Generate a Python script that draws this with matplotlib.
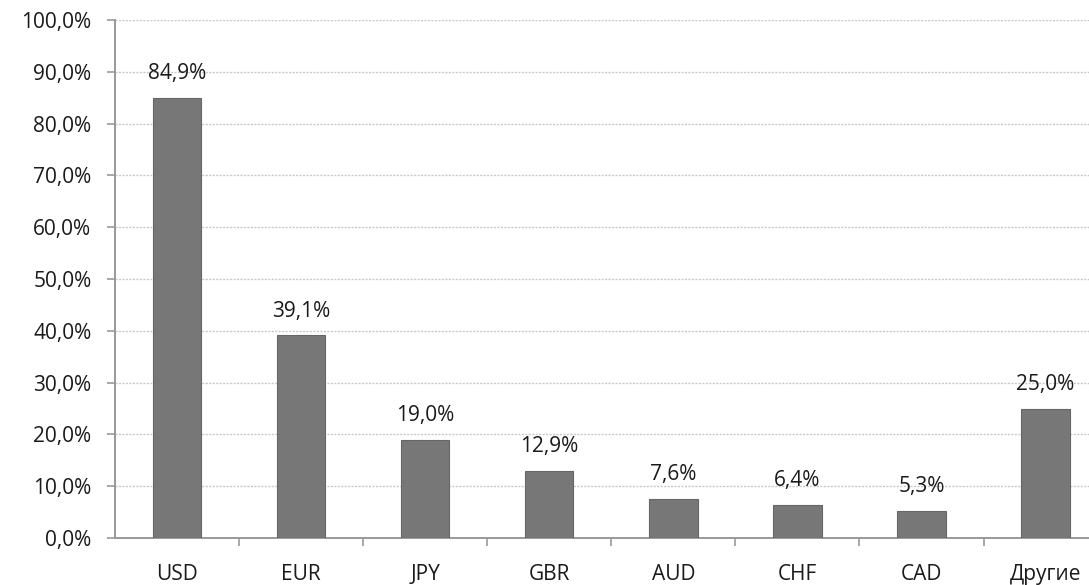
import matplotlib.pyplot as plt
from matplotlib.ticker import FixedLocator, FuncFormatter

plt.rcParams['font.family'] = ['Open Sans', 'DejaVu Sans']

categories = ["USD", "EUR", "JPY", "GBR", "AUD", "CHF", "CAD", "Другие"]
shares = [84.9, 39.1, 19.0, 12.9, 7.6, 6.4, 5.3, 25.0]
y_ticks = [0, 10, 20, 30, 40, 50, 60, 70, 80, 90, 100]

BAR_COLOR = "#777777"
EDGE_COLOR = "#666666"
AXIS_COLOR = "#999999"
GRID_COLOR = "#c8c8c8"
TEXT_COLOR = "#1a1a1a"
FS = 15


def pct(v):
    return f"{v:.1f}%".replace(".", ",")


fig = plt.figure(figsize=(10.89, 5.85), dpi=100)
ax = fig.add_axes([115 / 1089, 1 - 538 / 585, 1 - 115 / 1089, (538 - 20) / 585])

x = range(len(categories))
ax.bar(x, shares, width=0.39, color=BAR_COLOR, edgecolor=EDGE_COLOR,
       linewidth=0.8, zorder=3)

for xi, v in zip(x, shares):
    ax.annotate(pct(v), (xi, v), xytext=(0, 10), textcoords="offset points",
                ha="center", va="bottom", fontsize=FS, color=TEXT_COLOR)

ax.set_ylim(0, 100)
ax.set_xlim(-0.5, 7.35)
ax.set_yticks(y_ticks)
ax.yaxis.set_major_formatter(FuncFormatter(lambda v, _: pct(v)))
ax.grid(axis="y", color=GRID_COLOR, linestyle=(0, (1.5, 1)), linewidth=1.0, zorder=0)

ax.set_xticks(list(x))
ax.set_xticklabels(categories)
ax.xaxis.set_minor_locator(FixedLocator([i + 0.5 for i in range(len(categories))]))
ax.tick_params(axis="x", which="major", length=0, pad=19, labelsize=FS, labelcolor=TEXT_COLOR)
ax.tick_params(axis="x", which="minor", length=6, color=AXIS_COLOR, width=1.2)
ax.tick_params(axis="y", length=6, color=AXIS_COLOR, width=1.2, pad=11,
               labelsize=FS, labelcolor=TEXT_COLOR)

for side in ("top", "right"):
    ax.spines[side].set_visible(False)
for side in ("left", "bottom"):
    ax.spines[side].set_color(AXIS_COLOR)
    ax.spines[side].set_linewidth(1.4)

fig.savefig("out.png", dpi=100)
